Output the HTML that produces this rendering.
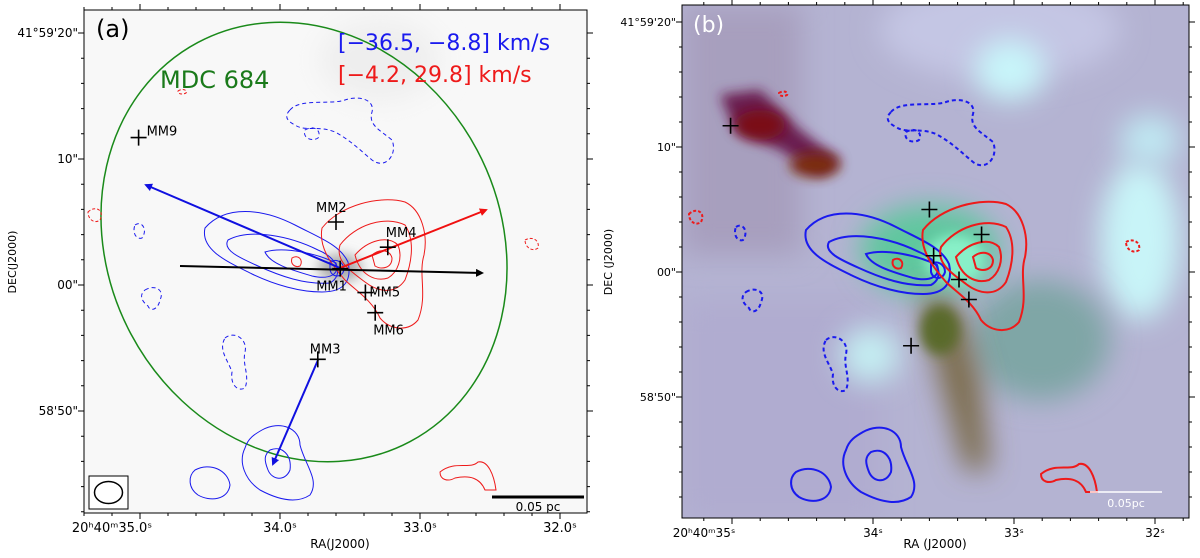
<!DOCTYPE html>
<html><head><meta charset="utf-8"><style>
body{margin:0;background:#fff;width:1200px;height:553px;overflow:hidden;font-family:"Liberation Sans","DejaVu Sans",sans-serif}
svg text{font-family:"DejaVu Sans","Liberation Sans",sans-serif}
</style></head><body>
<svg id="fig" width="1200" height="553" viewBox="0 0 1200 553" xmlns="http://www.w3.org/2000/svg">
<defs>
<clipPath id="ca"><rect x="84" y="10" width="503" height="503"/></clipPath>
<clipPath id="cb"><rect x="682" y="5" width="507" height="513"/></clipPath>
<filter id="bl" x="-50%" y="-50%" width="200%" height="200%"><feGaussianBlur stdDeviation="14"/></filter>
<filter id="bs" x="-50%" y="-50%" width="200%" height="200%"><feGaussianBlur stdDeviation="6"/></filter>
<marker id="ab" markerWidth="8" markerHeight="8" refX="6" refY="4" orient="auto" markerUnits="userSpaceOnUse"><path d="M0,0 L8,4 L0,8 z" fill="#1010e0"/></marker>
<marker id="ar" markerWidth="8" markerHeight="8" refX="6" refY="4" orient="auto" markerUnits="userSpaceOnUse"><path d="M0,0 L8,4 L0,8 z" fill="#f01010"/></marker>
<marker id="ak" markerWidth="8" markerHeight="8" refX="6" refY="4" orient="auto" markerUnits="userSpaceOnUse"><path d="M0,0 L8,4 L0,8 z" fill="#000"/></marker>
<g id="contours">
 <g fill="none" stroke="#1a1aee">
  <path d="M205,228 C225,205 262,208 295,225 C320,238 340,245 348,262 C352,280 345,292 322,292 C300,292 275,285 252,274 C228,262 200,250 205,228 z"/>
  <path d="M228,240 C250,228 290,236 318,250 C338,258 344,275 330,283 C305,285 280,276 258,266 C240,258 222,250 228,240 z"/>
  <path d="M265,252 C285,246 318,254 336,263 C340,274 330,280 312,276 C292,270 270,264 265,252 z"/>
  <path d="M330,262 C336,258 344,262 344,270 C342,278 332,278 330,270 z"/>
  <path d="M262,430 C280,420 300,428 300,445 C305,465 320,480 310,495 C295,505 275,498 260,490 C245,480 238,462 245,448 C248,438 255,434 262,430 z"/>
  <path d="M270,450 C282,445 292,455 290,470 C285,482 272,480 268,470 C264,460 264,455 270,450 z"/>
  <path d="M195,470 C210,462 228,470 230,485 C228,500 210,502 198,495 C188,488 188,476 195,470 z"/>
 </g>
 <g fill="none" stroke="#1a1aee" stroke-dasharray="4,3">
  <path d="M290,110 C300,98 330,105 345,100 C360,95 375,100 372,112 C368,125 380,130 392,140 C398,155 385,170 372,160 C360,150 350,140 335,132 C318,125 305,132 295,125 C285,120 285,115 290,110 z"/>
  <path d="M305,130 C315,124 322,132 318,138 C312,142 302,138 305,130 z"/>
  <path d="M145,290 C155,284 165,290 160,300 C158,310 150,312 148,306 C140,300 140,294 145,290 z"/>
  <path d="M135,225 C142,220 148,230 142,238 C136,240 132,232 135,225 z"/>
  <path d="M225,338 C235,330 248,340 245,352 C242,365 250,375 245,388 C238,392 230,385 232,372 C228,360 218,350 225,338 z"/>
 </g>
 <g fill="none" stroke="#ee1a1a">
  <path d="M322,228 C340,205 380,195 405,202 C422,210 428,235 424,255 C418,275 428,295 418,320 C408,332 390,330 380,318 C372,300 355,290 345,280 C335,268 318,250 322,228 z"/>
  <path d="M340,245 C355,225 385,215 405,225 C415,240 412,262 405,280 C395,295 378,292 365,282 C352,272 335,262 340,245 z"/>
  <path d="M355,255 C368,240 388,235 398,245 C403,258 398,272 388,278 C375,282 360,275 355,255 z"/>
  <path d="M372,255 C380,248 390,250 392,258 C392,268 382,270 375,266 z"/>
  <path d="M292,258 C298,254 304,260 300,266 C295,268 290,264 292,258 z"/>
  <path d="M440,472 C455,460 470,470 478,462 C488,460 494,475 496,490 L485,490 C480,478 470,475 455,478 C448,482 440,480 440,472 z"/>
 </g>
 <g fill="none" stroke="#ee1a1a" stroke-dasharray="3,2">
  <path d="M88,212 C95,205 105,210 100,220 C95,224 88,220 88,212 z"/>
  <path d="M525,240 C532,236 540,240 538,248 C533,252 525,248 525,240 z"/>
  <path d="M178,91 C182,88 188,90 186,93 C182,95 178,94 178,91 z"/>
 </g>
</g>
</defs>

<!-- PANEL A -->
<g>
 <rect x="84" y="10" width="503" height="503" fill="#f8f8f8"/>
 <g clip-path="url(#ca)">
  <ellipse cx="340" cy="268" rx="22" ry="14" fill="#aaa" filter="url(#bs)"/>
  <ellipse cx="380" cy="60" rx="60" ry="40" fill="#eee" filter="url(#bl)"/>
  <ellipse cx="304" cy="242" rx="196" ry="226" transform="rotate(-28 304 242)" fill="none" stroke="#1a8a1a" stroke-width="1.5"/>
  <use href="#contours" stroke-width="1"/>
  <line x1="340" y1="268" x2="146" y2="185" stroke="#1010e0" stroke-width="2" marker-end="url(#ab)"/>
  <line x1="340" y1="268" x2="486" y2="210" stroke="#f01010" stroke-width="2" marker-end="url(#ar)"/>
  <line x1="180" y1="266" x2="482" y2="273" stroke="#000" stroke-width="2" marker-end="url(#ak)"/>
  <line x1="318" y1="360" x2="273" y2="464" stroke="#1010e0" stroke-width="2" marker-end="url(#ab)"/>
  <g id="markers-a"></g>
 </g>
 <rect x="84" y="10" width="503" height="503" fill="none" stroke="#000" stroke-width="1"/>
 <text x="96" y="37" font-size="24">(a)</text>
 <text x="338" y="50" font-size="22" fill="#1a1aee">[−36.5, −8.8] km/s</text>
 <text x="338" y="82" font-size="22" fill="#ee1a1a">[−4.2, 29.8] km/s</text>
 <text x="160" y="88" font-size="24" fill="#1a7a1a">MDC 684</text>
 <rect x="89" y="476" width="39" height="33" fill="#fff" stroke="#000"/>
 <ellipse cx="108.5" cy="492.5" rx="14" ry="11" fill="none" stroke="#000" stroke-width="1.5"/>
 <line x1="492" y1="497" x2="584" y2="497" stroke="#000" stroke-width="3"/>
 <text x="538" y="511" font-size="12" text-anchor="middle">0.05 pc</text>
 <g id="ticks-a"></g>
 <text transform="translate(16 262) rotate(-90)" font-size="11" text-anchor="middle">DEC(J2000)</text>
 <text x="340" y="548" font-size="12" text-anchor="middle">RA(J2000)</text>
</g>

<!-- PANEL B -->
<g>
 <rect x="682" y="5" width="507" height="513" fill="#b4b3d2"/>
 <g clip-path="url(#cb)">
  <rect x="682" y="5" width="120" height="250" fill="#a79fbe" filter="url(#bl)"/>
  <rect x="682" y="300" width="200" height="220" fill="#b0acd0" filter="url(#bl)"/>
  <ellipse cx="1000" cy="30" rx="120" ry="50" fill="#c4c6e4" filter="url(#bl)"/>
  <ellipse cx="1010" cy="70" rx="35" ry="30" fill="#c8f6fa" filter="url(#bl)"/>
  <ellipse cx="1140" cy="240" rx="40" ry="80" fill="#c8f4f8" filter="url(#bl)"/>
  <ellipse cx="1150" cy="140" rx="30" ry="25" fill="#bfe8f2" filter="url(#bl)"/>
  <ellipse cx="870" cy="355" rx="30" ry="28" fill="#c4eef2" filter="url(#bl)"/>
  <ellipse cx="1040" cy="340" rx="70" ry="60" fill="#7fa6a6" filter="url(#bl)"/>
  <ellipse cx="930" cy="250" rx="70" ry="45" fill="#5fc79e" filter="url(#bl)"/>
  <ellipse cx="955" cy="260" rx="30" ry="25" fill="#88f0c8" filter="url(#bs)"/>
  <path d="M720,95 L760,90 L800,130 L840,160 L820,175 L780,150 L735,130 z" fill="#6a1a50" filter="url(#bs)"/>
  <ellipse cx="760" cy="125" rx="25" ry="15" fill="#7a0a18" filter="url(#bs)"/>
  <ellipse cx="815" cy="165" rx="25" ry="12" fill="#7a2a10" filter="url(#bs)"/>
  <path d="M920,290 L960,310 L980,380 L990,470 L965,470 L940,380 z" fill="#7a6a4a" filter="url(#bl)"/>
  <ellipse cx="940" cy="330" rx="20" ry="25" fill="#5a6a2a" filter="url(#bs)"/>
  <use href="#contours" transform="translate(601 2)" stroke-width="2"/>
  <g id="markers-b"></g>
 </g>
 <rect x="682" y="5" width="507" height="513" fill="none" stroke="#000" stroke-width="1"/>
 <text x="693" y="32" font-size="22" fill="#fff">(b)</text>
 <line x1="1090" y1="492" x2="1162" y2="492" stroke="#fff" stroke-width="1.5"/>
 <text x="1126" y="507" font-size="11" text-anchor="middle" fill="#fff">0.05pc</text>
 <g id="ticks-b"></g>
 <text transform="translate(612 262) rotate(-90)" font-size="11" text-anchor="middle">DEC (J2000)</text>
 <text x="935" y="548" font-size="12" text-anchor="middle">RA (J2000)</text>
</g>
</svg>
<script>
// Source positions: RA seconds (20h40m) and Dec arcsec offset from 41°59'00"
const sourceNames = ["MM1","MM2","MM3","MM4","MM5","MM6","MM9"];
const sourceRA = [33.57, 33.60, 33.73, 33.23, 33.39, 33.32, 35.01];
const sourceDec = [1.3, 5.0, -5.9, 3.0, -0.6, -2.2, 11.7];
const xTicksA = ["20ʰ40ᵐ35.0ˢ","34.0ˢ","33.0ˢ","32.0ˢ"];
const xTicksB = ["20ʰ40ᵐ35ˢ","34ˢ","33ˢ","32ˢ"];
const xTickVals = [35, 34, 33, 32];
const yTicksA = ["41°59'20\"","10\"","00\"","58'50\""];
const yTickVals = [20, 10, 0, -10];

const NS = "http://www.w3.org/2000/svg";
const A = {x0:84,x1:587,y0:10,y1:513, x:s=>140+(35-s)*140, y:d=>33+(20-d)*12.6};
const B = {x0:682,x1:1189,y0:5,y1:518, x:s=>732+(35-s)*141, y:d=>22+(20-d)*12.5};
function mk(tag, attrs, parent){const e=document.createElementNS(NS,tag);for(const k in attrs)e.setAttribute(k,attrs[k]);parent.appendChild(e);return e;}

function drawMarkers(P, gid, labels){
  const g=document.getElementById(gid);
  sourceNames.forEach((n,i)=>{
    const x=P.x(sourceRA[i]), y=P.y(sourceDec[i]);
    const c=mk('path',{d:`M${x-8},${y} H${x+8} M${x},${y-8} V${y+8}`,stroke:'#000','stroke-width':1.6},g);
    
    
    if(labels){
      const off={MM1:[-24,22],MM2:[-20,-10],MM3:[-8,-6],MM4:[-2,-10],MM5:[4,4],MM6:[-2,22],MM9:[8,-2]}[n];
      const t=mk('text',{x:x+off[0],y:y+off[1],'font-size':13},g);
      t.textContent=n;
      
      
    }
  });
}
drawMarkers(A,'markers-a',true);
drawMarkers(B,'markers-b',false);

function drawTicks(P, gid, xl, yl, fs, tag){
  const g=document.getElementById(gid);
  let d='';
  for(let s=36;s>=31;s-=0.2){const x=P.x(s); if(x<P.x0||x>P.x1)continue;
    const major=Math.abs(s-Math.round(s))<1e-6; const L=major?6:3;
    d+=`M${x},${P.y1} v${L} M${x},${P.y0} v${-L} `;}
  for(let dd=24;dd>=-20;dd-=2){const y=P.y(dd); if(y<P.y0||y>P.y1)continue;
    const major=dd%10===0; const L=major?6:3;
    d+=`M${P.x0},${y} h${-L} M${P.x1},${y} h${L} `;}
  const p=mk('path',{d:d,stroke:'#000','stroke-width':1},g);
  
  
  xTickVals.forEach((v,i)=>{
    const t=mk('text',{x:P.x(v)+(i===0?-28:0),y:P.y1+19,'font-size':fs,'text-anchor':'middle'},g);
    t.textContent=xl[i];
    
    
  });
  yTickVals.forEach((v,i)=>{
    const t=mk('text',{x:P.x0-6,y:P.y(v)+4,'font-size':fs-1,'text-anchor':'end'},g);
    t.textContent=yl[i];
    
    
  });
}
drawTicks(A,'ticks-a',xTicksA,yTicksA,13,'panel-a');
drawTicks(B,'ticks-b',xTicksB,yTicksA,12,'panel-b');
</script>
</body></html>
